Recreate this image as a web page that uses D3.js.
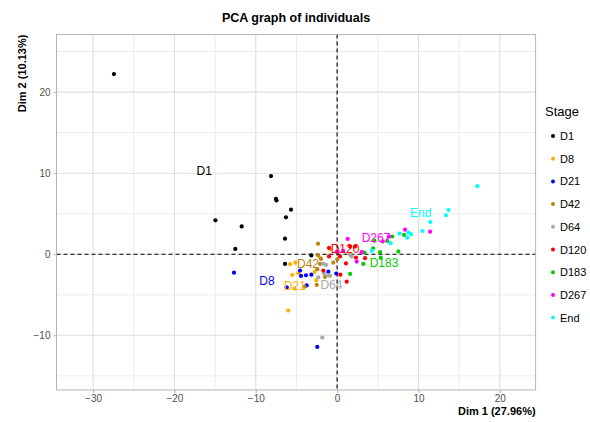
<!DOCTYPE html>
<html><head><meta charset="utf-8">
<script src="https://cdn.jsdelivr.net/npm/d3@7"></script>
<style>body{margin:0;background:#fff}svg{display:block;font-family:"Liberation Sans",Arial,Helvetica,sans-serif}</style>
</head><body><svg id="c" width="590" height="422"></svg>
<script>
const stages = ["D1","D8","D21","D42","D64","D120","D183","D267","End"];
const stageColors = ["#000000","#FFB000","#0000FF","#B8860B","#A9A9A9","#FF0000","#00CC00","#FF00FF","#00FFFF"];
const xTicks = [-30,-20,-10,0,10,20];
const yTicks = [-10,0,10,20];
const xMinor = [-25,-15,-5,5,15];
const yMinor = [-15,-5,5,15,25];
const xDomain = [-34.5, 24.4];
const yDomain = [-16.75, 27.1];
// individuals: [Dim1, Dim2]
const D1 = [[-27.44,22.23],[-8.13,9.65],[-7.52,6.82],[-7.45,6.63],[-5.67,5.50],[-6.29,4.56],[-14.96,4.19],[-11.73,3.43],[-6.41,1.92],[-12.52,0.65],[-3.17,-0.15],[-6.41,-1.20]];
const D8 = [[-5.79,-1.23],[-5.14,-1.04],[-5.51,-2.55],[-4.77,-2.34],[-5.26,-4.24],[-6.00,-6.95],[-2.76,-2.18],[-2.56,-3.21],[-0.87,0.62],[-2.10,-0.46]];
const D21 = [[-12.68,-2.27],[-6.20,-4.07],[-4.56,-2.02],[-4.44,-2.68],[-3.83,-2.59],[-3.17,-2.52],[-3.74,-3.85],[-1.08,-2.15],[-0.10,-2.39],[-2.44,-11.43]];
const D42 = [[-2.35,1.31],[-2.35,-0.12],[-1.98,-0.58],[-2.10,-1.20],[-0.47,-1.04],[0.02,-0.62],[-2.44,-1.85],[-2.51,-3.79],[-4.03,-4.00],[-1.49,-2.80]];
const D64 = [[-1.73,-1.16],[-1.37,-1.32],[-1.61,-2.39],[-1.12,-2.59],[-2.31,-2.84],[-0.87,-2.68],[1.59,-0.09],[1.80,-0.30],[-1.82,-10.28]];
const D120 = [[-1.00,0.78],[-1.00,-0.27],[0.36,-0.27],[0.02,0.25],[1.09,-1.13],[-1.70,-2.02],[0.39,-2.52],[1.18,-3.38],[1.59,0.94],[2.20,0.94],[3.03,0.25],[3.43,-0.49],[2.32,-0.42]];
const D183 = [[1.59,-2.43],[3.37,0.20],[4.42,0.74],[4.58,1.68],[5.28,0.25],[5.36,-0.42],[6.17,1.64],[6.79,2.19],[7.53,0.35],[8.23,2.38],[3.22,-1.20]];
const D267 = [[1.30,1.89],[0.02,0.35],[0.73,0.41],[2.41,-0.91],[3.03,0.20],[5.61,1.58],[6.38,2.17],[8.35,3.03],[11.43,2.79]];
const End = [[17.24,8.40],[13.70,5.46],[13.39,4.81],[11.46,3.98],[10.50,2.87],[9.09,2.47],[8.76,2.66],[8.63,2.05],[7.65,2.54],[6.59,1.36],[4.26,0.44]];
const groupPoints = [D1,D8,D21,D42,D64,D120,D183,D267,End];
// group label text, positions (repelled) [Dim1, Dim2] and the colour each label is drawn in
const labelText = ["D1","D8","D21","D42","D64","D120","D183","D267","End"];
const labelPos = [[-16.34,10.31],[-8.62,-3.26],[-5.2,-3.9],[-3.58,-1.23],[-0.7,-3.85],[0.97,0.62],[5.77,-1.11],[4.78,2.05],[10.28,5.06]];
const labelStage = ["D1","D21","D8","D42","D64","D120","D183","D267","End"];

const svg = d3.select("#c");
const m = {l:56.5, r:535.6, t:34.6, b:390};
const x = d3.scaleLinear().domain(xDomain).range([m.l, m.r]);
const y = d3.scaleLinear().domain(yDomain).range([m.b, m.t]);
const color = d3.scaleOrdinal().domain(stages).range(stageColors);

const g = svg.append("g");
g.selectAll(".xm").data(xMinor).join("line").attr("x1",d=>x(d)).attr("x2",d=>x(d)).attr("y1",m.t).attr("y2",m.b).attr("stroke","#EBEBEB").attr("stroke-width",1);
g.selectAll(".ym").data(yMinor.filter(v=>y(v)>m.t&&y(v)<m.b)).join("line").attr("y1",d=>y(d)).attr("y2",d=>y(d)).attr("x1",m.l).attr("x2",m.r).attr("stroke","#EBEBEB").attr("stroke-width",1);
g.selectAll(".xM").data(xTicks).join("line").attr("x1",d=>x(d)).attr("x2",d=>x(d)).attr("y1",m.t).attr("y2",m.b).attr("stroke","#DEDEDE").attr("stroke-width",1.1);
g.selectAll(".yM").data(yTicks).join("line").attr("y1",d=>y(d)).attr("y2",d=>y(d)).attr("x1",m.l).attr("x2",m.r).attr("stroke","#DEDEDE").attr("stroke-width",1.1);

const fmt = d=>d<0?"\u2212"+Math.abs(d):d;
const xa = svg.append("g").attr("transform",`translate(0,${m.b})`).call(d3.axisBottom(x).tickValues(xTicks).tickSize(3).tickPadding(2).tickFormat(fmt));
const ya = svg.append("g").attr("transform",`translate(${m.l},0)`).call(d3.axisLeft(y).tickValues(yTicks).tickSize(3).tickPadding(3).tickFormat(fmt));
[xa,ya].forEach(a=>{a.select(".domain").remove();a.selectAll("line").attr("stroke","#B3B3B3");a.selectAll("text").attr("fill","#4D4D4D").style("font-size","10px").style("font-family","Liberation Sans, Arial, sans-serif");});

svg.append("line").attr("x1",x(0)).attr("x2",x(0)).attr("y1",m.t).attr("y2",m.b).attr("stroke","#000").attr("stroke-width",1.1).attr("stroke-dasharray","4,3");
svg.append("line").attr("y1",y(0)).attr("y2",y(0)).attr("x1",m.l).attr("x2",m.r).attr("stroke","#000").attr("stroke-width",1.1).attr("stroke-dasharray","4,3");

stages.forEach((s,i)=>{
  svg.append("g").selectAll("circle").data(groupPoints[i]).join("circle")
    .attr("cx",d=>x(d[0])).attr("cy",d=>y(d[1])).attr("r",2.1).attr("fill",color(s));
});
svg.append("g").selectAll("text").data(labelText).join("text")
  .attr("x",(d,i)=>x(labelPos[i][0])).attr("y",(d,i)=>y(labelPos[i][1]))
  .attr("text-anchor","middle").attr("dominant-baseline","central")
  .attr("fill",(d,i)=>color(labelStage[i])).style("font-size","12px").text(d=>d);

svg.append("rect").attr("x",m.l).attr("y",m.t).attr("width",m.r-m.l).attr("height",m.b-m.t).attr("fill","none").attr("stroke","#B3B3B3").attr("stroke-width",1);

svg.append("text").attr("x",(m.l+m.r)/2).attr("y",22).attr("text-anchor","middle").style("font-size","12.5px").style("font-weight","bold").text("PCA graph of individuals");
svg.append("text").attr("x",m.r).attr("y",415).attr("text-anchor","end").style("font-size","11px").style("font-weight","bold").text("Dim 1 (27.96%)");
svg.append("text").attr("transform",`translate(26,${m.t}) rotate(-90)`).attr("text-anchor","end").style("font-size","11px").style("font-weight","bold").text("Dim 2 (10.13%)");

const lg = svg.append("g");
lg.append("text").attr("x",545).attr("y",116).style("font-size","13px").text("Stage");
const items = lg.selectAll(".it").data(stages).join("g").attr("transform",(d,i)=>`translate(553,${136+i*22.7})`);
items.append("circle").attr("r",2).attr("fill",d=>color(d));
items.append("text").attr("x",7).attr("dominant-baseline","central").style("font-size","11px").text(d=>d);
</script></body></html>
